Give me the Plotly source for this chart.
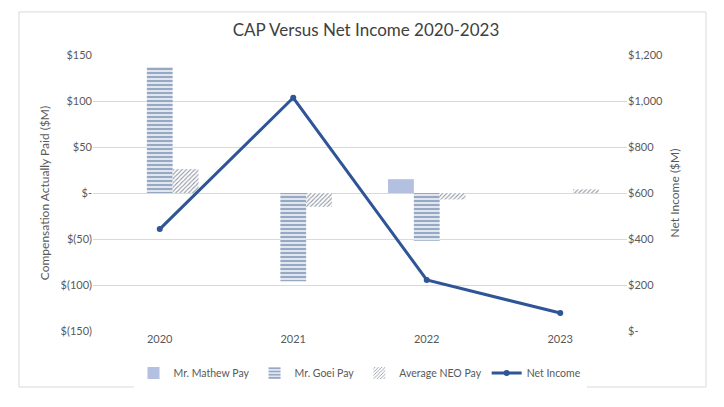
import plotly.graph_objects as go

years = ["2020", "2021", "2022", "2023"]
mathew_pay = [None, None, 15, None]
goei_pay = [137, -96, -52, None]
neo_pay = [26, -15, -7, 4]
net_income = [443, 1014, 222, 78]

left_ticks = [150, 100, 50, 0, -50, -100, -150]
left_text = ["$150", "$100", "$50", "$-", "$(50)", "$(100)", "$(150)"]
right_ticks = [1200, 1000, 800, 600, 400, 200, 0]
right_text = ["$1,200", "$1,000", "$800", "$600", "$400", "$200", "$-"]

FONT = "Lato"
GREY = "#595959"

fig = go.Figure()
fig.add_trace(go.Bar(
    x=years, y=mathew_pay, name="Mr. Mathew Pay",
    marker=dict(color="#b4c0e0", line=dict(width=0)),
))
fig.add_trace(go.Bar(
    x=years, y=goei_pay, name="Mr. Goei Pay",
    marker=dict(color="white", line=dict(width=0),
                pattern=dict(shape="-", fgcolor="#2f5189", bgcolor="white",
                             size=4, solidity=0.65, fillmode="overlay")),
))
fig.add_trace(go.Bar(
    x=years, y=neo_pay, name="Average NEO Pay",
    marker=dict(color="white", line=dict(width=0),
                pattern=dict(shape="/", fgcolor="#1f2d4a", bgcolor="white",
                             size=3, solidity=0.35, fillmode="overlay")),
))
fig.add_trace(go.Scatter(
    x=years, y=net_income, name="Net Income", yaxis="y2",
    mode="lines+markers",
    line=dict(color="#2f5597", width=3),
    marker=dict(color="#2f5597", size=6),
))

fig.update_layout(
    width=716, height=399,
    paper_bgcolor="white", plot_bgcolor="white",
    margin=dict(l=85, r=97, t=47, b=76),
    barmode="group", bargap=0.42, bargroupgap=0,
    font=dict(family=FONT, color=GREY, size=11),
    title=dict(text="CAP Versus Net Income 2020-2023", x=0.5, xanchor="center",
               y=0.945, yanchor="middle",
               font=dict(family=FONT, size=17, color="#404040")),
    xaxis=dict(showgrid=False, showline=False, ticks="", zeroline=False,
               tickfont=dict(size=11, color=GREY)),
    yaxis=dict(range=[-150, 150], tickvals=left_ticks, ticktext=left_text,
               showgrid=True, gridcolor="#d9d9d9", gridwidth=1,
               zeroline=False, showline=False, ticks="",
               tickfont=dict(size=11, color=GREY),
               title=dict(text="Compensation Actually Paid ($M)",
                          font=dict(size=12, color=GREY), standoff=8)),
    yaxis2=dict(range=[0, 1200], tickvals=right_ticks, ticktext=right_text,
                overlaying="y", side="right", showgrid=False, zeroline=False,
                showline=False, ticks="",
                tickfont=dict(size=11, color=GREY),
                title=dict(text="Net Income ($M)",
                           font=dict(size=12, color=GREY), standoff=8)),
    legend=dict(orientation="h", x=0.5, xanchor="center", y=-0.1, yanchor="top",
                font=dict(size=10.5, color=GREY), itemwidth=30,
                traceorder="normal"),
    shapes=[dict(type="rect", xref="paper", yref="paper",
                 x0=-0.1386, x1=1.148, y0=-0.203, y1=1.156,
                 line=dict(color="#d9d9d9", width=1), fillcolor="rgba(0,0,0,0)")],
)

fig.write_html("out.html")
